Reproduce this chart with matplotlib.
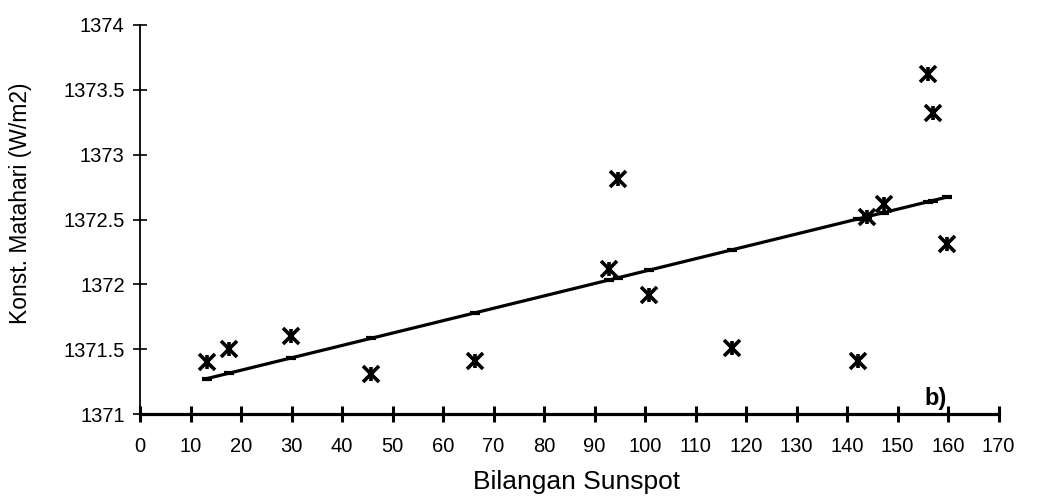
import numpy as np
import matplotlib
matplotlib.use('Agg')
import matplotlib.pyplot as plt
from matplotlib.ticker import FuncFormatter

plt.rcParams['font.family'] = ['Liberation Sans', 'DejaVu Sans']

# Bilangan sunspot vs konstanta matahari
sunspot = [13.3, 17.7, 29.8, 45.7, 66.4, 92.8, 94.6, 100.8, 117.2, 142.2, 144.0, 147.3, 156.0, 157.0, 159.8]
konstanta = [1371.40, 1371.50, 1371.60, 1371.31, 1371.41, 1372.12, 1372.81, 1371.92, 1371.51,
             1371.41, 1372.52, 1372.62, 1373.62, 1373.32, 1372.31]

x_ticks = list(range(0, 171, 10))
y_ticks = [1371, 1371.5, 1372, 1372.5, 1373, 1373.5, 1374]

# garis regresi linier (nilai prediksi pada tiap titik data)
xs = np.array(sunspot)
coef = np.polyfit(xs, np.array(konstanta), 1)
order = np.argsort(xs)
x_fit = xs[order]
y_fit = np.polyval(coef, x_fit)

fig = plt.figure(figsize=(10.37, 5.0), dpi=100)
ax = fig.add_axes([0.135, 0.172, 0.828, 0.778])

ax.plot(x_fit, y_fit, color='black', lw=2.3, marker='_', ms=7, mew=3, zorder=2)
ax.plot(sunspot, konstanta, ls='none', marker='x', ms=12, mew=2.6, color='black', zorder=3)
ax.plot(sunspot, konstanta, ls='none', marker='|', ms=10, mew=2.6, color='black', zorder=3)

ax.set_xlim(0, 170)
ax.set_ylim(1371, 1374)
ax.set_xticks(x_ticks)
ax.set_yticks(y_ticks)
ax.yaxis.set_major_formatter(FuncFormatter(lambda v, p: '%g' % v))

for s in ['top', 'right']:
    ax.spines[s].set_visible(False)
ax.spines['bottom'].set_linewidth(2.3)
ax.spines['left'].set_linewidth(1.3)

ax.tick_params(axis='x', direction='inout', length=12, width=2.2, pad=10.5, labelsize=14.5)
ax.tick_params(axis='y', direction='inout', length=10, width=1.2, pad=6, labelsize=14.5)

ax.set_xlabel('Bilangan Sunspot', fontsize=19)
ax.set_ylabel('Konst. Matahari (W/m2)', fontsize=16.5)
ax.xaxis.set_label_coords(0.508, -0.145)
ax.yaxis.set_label_coords(-0.126, 0.542)

ax.text(157.5, 1371.03, 'b)', fontsize=17, fontweight='bold', ha='center', va='bottom')

fig.savefig('out.png', dpi=100)
